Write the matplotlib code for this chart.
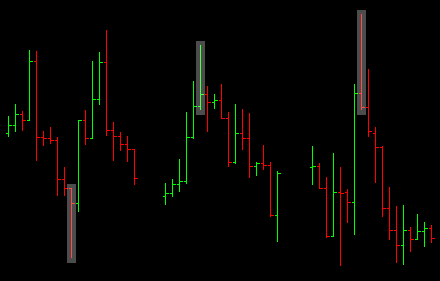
import matplotlib
matplotlib.use("Agg")
import matplotlib.pyplot as plt
from matplotlib.patches import Rectangle

# time positions (minutes from start), sessions separated by gaps
t_s1 = [0, 7, 14, 21, 28, 35, 42, 49, 56, 63, 70, 77, 84, 91, 98, 105, 112, 119, 126]
t_s2 = [157, 164, 171, 178, 185, 192, 199, 206, 213, 220, 227, 234, 241, 248, 255, 262, 269]
t_s3 = [304, 311, 318, 325, 332, 339, 346, 353, 360, 367, 374, 381, 388, 395, 402, 409, 416, 423]
times = t_s1 + t_s2 + t_s3

opens = [147.7, 155.7, 166.7, 161.0, 219.7, 143.7, 142.7, 140.7, 101.7, 92.7,
         77.7, 161.0, 142.7, 181.7, 218.7, 150.7, 144.7, 136.7, 131.7,
         84.7, 87.7, 96.7, 99.7, 143.7, 174.7, 186.7, 178.7, 180.7, 162.7,
         118.7, 147.7, 142.7, 114.7, 117.7, 115.7, 65.7,
         113.7, 115.0, 92.7, 44.7, 88.7, 88.7, 78.7, 187.7, 173.7, 147.7,
         133.7, 72.7, 50.7, 35.7, 50.7, 41.7, 49.7, 52.7]
highs = [165.0, 177.0, 170.0, 231.0, 229.7, 150.0, 154.0, 144.0, 114.0, 92.7,
         161.0, 171.0, 220.0, 229.0, 251.0, 159.0, 149.0, 145.0, 131.7,
         98.0, 102.0, 122.0, 169.0, 200.0, 236.0, 195.0, 187.0, 197.0, 169.0,
         177.0, 172.0, 168.0, 119.0, 136.0, 119.0, 110.0,
         135.0, 118.0, 104.0, 128.0, 114.0, 92.0, 197.0, 267.0, 212.0, 154.0,
         135.0, 94.0, 75.0, 76.0, 53.7, 67.0, 59.0, 56.0]
lows = [145.3, 150.3, 151.3, 161.7, 120.7, 136.3, 138.3, 86.3, 86.3, 24.3,
        70.3, 137.3, 143.7, 177.3, 146.3, 121.3, 131.3, 120.3, 97.3,
        77.3, 85.3, 90.3, 98.3, 143.3, 172.3, 150.3, 173.3, 162.7, 115.3,
        118.3, 132.3, 104.3, 106.3, 112.3, 65.3, 40.3,
        97.3, 93.0, 44.3, 45.7, 16.3, 59.3, 47.3, 172.3, 145.3, 99.3,
        65.3, 42.3, 19.3, 17.3, 30.3, 42.3, 35.3, 39.3]
closes = [155.7, 166.7, 161.0, 219.7, 143.7, 142.7, 140.7, 101.7, 92.7, 77.7,
          161.0, 142.7, 181.7, 218.7, 150.7, 144.7, 136.7, 131.7, 102.7,
          87.7, 96.7, 99.7, 143.7, 174.7, 186.7, 178.7, 180.7, 162.7, 118.7,
          147.7, 142.7, 114.7, 117.7, 115.7, 65.7, 107.7,
          115.0, 92.7, 44.7, 88.7, 88.4, 78.7, 187.7, 173.7, 149.7, 133.7,
          72.7, 50.7, 35.7, 50.7, 41.7, 49.7, 52.7, 42.7]
highlighted = [9, 24, 43]

UP = "#00ff00"
DOWN = "#ff0000"

fig = plt.figure(figsize=(4.4, 2.81), dpi=100, facecolor="black")
ax = fig.add_axes([0, 0, 1, 1])
ax.set_facecolor("black")
ax.set_xlim(-8.0, 432.0)
ax.set_ylim(0, 281)
ax.axis("off")

lw = 0.72
tick = 2.5
for t, o, h, l, c in zip(times, opens, highs, lows, closes):
    col = UP if c >= o else DOWN
    ax.vlines(t, l, h, colors=col, linewidth=lw, antialiased=False, zorder=2)
    ax.hlines(o, t - tick, t, colors=col, linewidth=lw, antialiased=False, zorder=2)
    ax.hlines(c, t, t + tick, colors=col, linewidth=lw, antialiased=False, zorder=2)

pad_top = 4.5
pad_bottom = 6.0
half_w = 4.5
for i in highlighted:
    ax.add_patch(Rectangle((times[i] - half_w, lows[i] - pad_bottom), 2 * half_w,
                           highs[i] - lows[i] + pad_top + pad_bottom,
                           facecolor="white", alpha=0.3, edgecolor="none",
                           antialiased=False, zorder=3))

fig.savefig("out.png", dpi=100, facecolor="black")
